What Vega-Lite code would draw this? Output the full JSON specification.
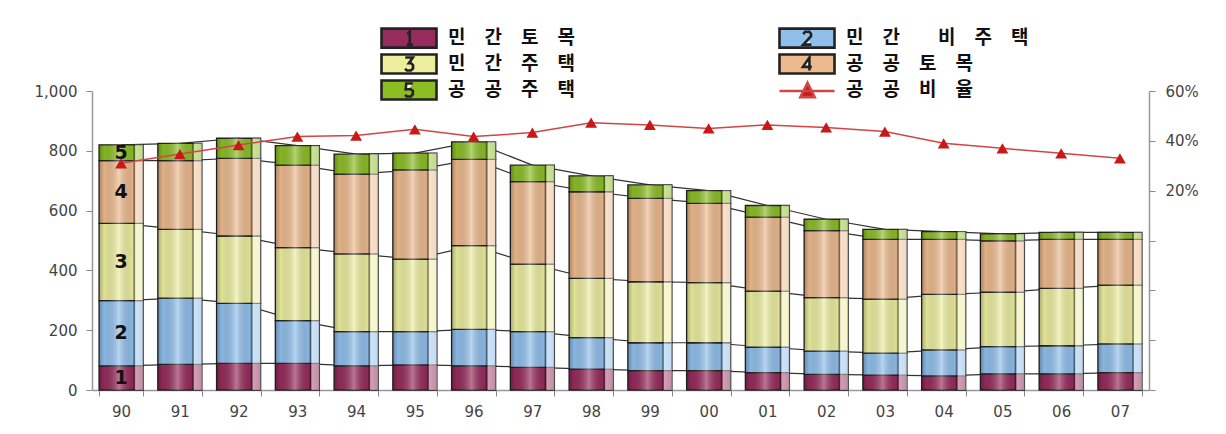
{
  "$schema": "https://vega.github.io/schema/vega-lite/v6.json",
  "width": 1057,
  "height": 299,
  "autosize": {"type": "none"},
  "padding": {"left": 92, "top": 91, "right": 77, "bottom": 44},
  "background": "white",
  "config": {"view": {"stroke": null}, "font": "DejaVu Sans"},
  "datasets": {
    "bars": [
      {"year":1990,"num":1,"type":"민간토목","value":81},{"year":1990,"num":2,"type":"민간 비주택","value":218},{"year":1990,"num":3,"type":"민간주택","value":258},{"year":1990,"num":4,"type":"공공토목","value":210},{"year":1990,"num":5,"type":"공공주택","value":53},
      {"year":1991,"num":1,"type":"민간토목","value":86},{"year":1991,"num":2,"type":"민간 비주택","value":221},{"year":1991,"num":3,"type":"민간주택","value":230},{"year":1991,"num":4,"type":"공공토목","value":230},{"year":1991,"num":5,"type":"공공주택","value":58},
      {"year":1992,"num":1,"type":"민간토목","value":89},{"year":1992,"num":2,"type":"민간 비주택","value":201},{"year":1992,"num":3,"type":"민간주택","value":225},{"year":1992,"num":4,"type":"공공토목","value":260},{"year":1992,"num":5,"type":"공공주택","value":67},
      {"year":1993,"num":1,"type":"민간토목","value":89},{"year":1993,"num":2,"type":"민간 비주택","value":143},{"year":1993,"num":3,"type":"민간주택","value":244},{"year":1993,"num":4,"type":"공공토목","value":276},{"year":1993,"num":5,"type":"공공주택","value":65},
      {"year":1994,"num":1,"type":"민간토목","value":81},{"year":1994,"num":2,"type":"민간 비주택","value":114},{"year":1994,"num":3,"type":"민간주택","value":260},{"year":1994,"num":4,"type":"공공토목","value":267},{"year":1994,"num":5,"type":"공공주택","value":67},
      {"year":1995,"num":1,"type":"민간토목","value":84},{"year":1995,"num":2,"type":"민간 비주택","value":111},{"year":1995,"num":3,"type":"민간주택","value":243},{"year":1995,"num":4,"type":"공공토목","value":298},{"year":1995,"num":5,"type":"공공주택","value":56},
      {"year":1996,"num":1,"type":"민간토목","value":81},{"year":1996,"num":2,"type":"민간 비주택","value":122},{"year":1996,"num":3,"type":"민간주택","value":280},{"year":1996,"num":4,"type":"공공토목","value":288},{"year":1996,"num":5,"type":"공공주택","value":59},
      {"year":1997,"num":1,"type":"민간토목","value":76},{"year":1997,"num":2,"type":"민간 비주택","value":119},{"year":1997,"num":3,"type":"민간주택","value":226},{"year":1997,"num":4,"type":"공공토목","value":276},{"year":1997,"num":5,"type":"공공주택","value":55},
      {"year":1998,"num":1,"type":"민간토목","value":70},{"year":1998,"num":2,"type":"민간 비주택","value":105},{"year":1998,"num":3,"type":"민간주택","value":198},{"year":1998,"num":4,"type":"공공토목","value":290},{"year":1998,"num":5,"type":"공공주택","value":53},
      {"year":1999,"num":1,"type":"민간토목","value":65},{"year":1999,"num":2,"type":"민간 비주택","value":93},{"year":1999,"num":3,"type":"민간주택","value":204},{"year":1999,"num":4,"type":"공공토목","value":279},{"year":1999,"num":5,"type":"공공주택","value":45},
      {"year":2000,"num":1,"type":"민간토목","value":65},{"year":2000,"num":2,"type":"민간 비주택","value":93},{"year":2000,"num":3,"type":"민간주택","value":201},{"year":2000,"num":4,"type":"공공토목","value":265},{"year":2000,"num":5,"type":"공공주택","value":43},
      {"year":2001,"num":1,"type":"민간토목","value":58},{"year":2001,"num":2,"type":"민간 비주택","value":85},{"year":2001,"num":3,"type":"민간주택","value":188},{"year":2001,"num":4,"type":"공공토목","value":247},{"year":2001,"num":5,"type":"공공주택","value":39},
      {"year":2002,"num":1,"type":"민간토목","value":52},{"year":2002,"num":2,"type":"민간 비주택","value":78},{"year":2002,"num":3,"type":"민간주택","value":179},{"year":2002,"num":4,"type":"공공토목","value":224},{"year":2002,"num":5,"type":"공공주택","value":38},
      {"year":2003,"num":1,"type":"민간토목","value":50},{"year":2003,"num":2,"type":"민간 비주택","value":73},{"year":2003,"num":3,"type":"민간주택","value":181},{"year":2003,"num":4,"type":"공공토목","value":200},{"year":2003,"num":5,"type":"공공주택","value":33},
      {"year":2004,"num":1,"type":"민간토목","value":47},{"year":2004,"num":2,"type":"민간 비주택","value":87},{"year":2004,"num":3,"type":"민간주택","value":186},{"year":2004,"num":4,"type":"공공토목","value":184},{"year":2004,"num":5,"type":"공공주택","value":26},
      {"year":2005,"num":1,"type":"민간토목","value":54},{"year":2005,"num":2,"type":"민간 비주택","value":91},{"year":2005,"num":3,"type":"민간주택","value":182},{"year":2005,"num":4,"type":"공공토목","value":172},{"year":2005,"num":5,"type":"공공주택","value":23},
      {"year":2006,"num":1,"type":"민간토목","value":54},{"year":2006,"num":2,"type":"민간 비주택","value":94},{"year":2006,"num":3,"type":"민간주택","value":192},{"year":2006,"num":4,"type":"공공토목","value":164},{"year":2006,"num":5,"type":"공공주택","value":23},
      {"year":2007,"num":1,"type":"민간토목","value":58},{"year":2007,"num":2,"type":"민간 비주택","value":96},{"year":2007,"num":3,"type":"민간주택","value":197},{"year":2007,"num":4,"type":"공공토목","value":153},{"year":2007,"num":5,"type":"공공주택","value":23}
    ],
    "ratio": [
      {"year":1990,"ratio":0.310},{"year":1991,"ratio":0.347},{"year":1992,"ratio":0.383},{"year":1993,"ratio":0.417},{"year":1994,"ratio":0.421},{"year":1995,"ratio":0.446},{"year":1996,"ratio":0.417},{"year":1997,"ratio":0.433},{"year":1998,"ratio":0.473},{"year":1999,"ratio":0.464},{"year":2000,"ratio":0.450},{"year":2001,"ratio":0.464},{"year":2002,"ratio":0.454},{"year":2003,"ratio":0.437},{"year":2004,"ratio":0.390},{"year":2005,"ratio":0.370},{"year":2006,"ratio":0.350},{"year":2007,"ratio":0.330}
    ]
  },
  "encoding": {
    "x": {
      "field": "year",
      "type": "ordinal",
      "scale": {"paddingInner": 0.25, "paddingOuter": 0.12},
      "axis": {
        "title": null,
        "labelExpr": "substring(datum.label, 2, 4)",
        "labelAngle": 0,
        "labelFont": "DejaVu Sans",
        "labelFontSize": 15,
        "labelColor": "#444",
        "labelPadding": 8,
        "tickBand": "extent",
        "tickSize": 6,
        "tickColor": "#888",
        "domainColor": "#999",
        "domainWidth": 1.5
      }
    }
  },
  "layer": [
    {
      "data": {"name": "bars"},
      "transform": [
        {"stack": "value", "groupby": ["year"], "sort": [{"field": "num", "order": "ascending"}], "as": ["y0", "y1"]}
      ],
      "encoding": {
        "y": {
          "field": "y1",
          "type": "quantitative",
          "scale": {"domain": [0, 1000]},
          "axis": {
            "title": null,
            "values": [0, 200, 400, 600, 800, 1000],
            "format": ",d",
            "grid": false,
            "labelFont": "DejaVu Sans",
            "labelFontSize": 15,
            "labelColor": "#444",
            "labelPadding": 9,
            "tickSize": 6,
            "tickColor": "#888",
            "domainColor": "#999",
            "domainWidth": 1.5
          }
        }
      },
      "layer": [
        {
          "mark": {"type": "line", "color": "#333", "strokeWidth": 1.2},
          "encoding": {"detail": {"field": "type"}}
        },
        {
          "mark": {"type": "bar", "strokeWidth": 1.3},
          "encoding": {
            "y2": {"field": "y0"},
            "stroke": {
              "field": "type",
              "type": "nominal",
              "scale": {
                "domain": ["민간토목", "민간 비주택", "민간주택", "공공토목", "공공주택", "공공비율"],
                "range": ["#222222", "#222222", "#222222", "#222222", "#222222", "#D24545"]
              }
            },
            "color": {
              "field": "type",
              "type": "nominal",
              "scale": {
                "domain": ["민간토목", "민간 비주택", "민간주택", "공공토목", "공공주택", "공공비율"],
                "range": ["#962C5C", "#90BFEC", "#ECEE9E", "#EDBA8E", "#8CBE24", "#C81818"]
              },
              "legend": {
                "orient": "none",
                "legendX": 288,
                "legendY": -64,
                "title": null,
                "columns": 2,
                "direction": "horizontal",
                "padding": 0,
                "symbolSize": 361,
                "symbolStrokeWidth": 2.6,
                "symbolOpacity": 1,
                "labelFont": "Noto Sans CJK KR",
                "labelFontSize": 19,
                "labelFontWeight": "bold",
                "labelColor": "#111",
                "labelOffset": 46,
                "labelLimit": 400,
                "rowPadding": -5.5,
                "columnPadding": 199,
                "labelExpr": "datum.label === '민간토목' ? '민\u2003간\u2003토\u2003목' : datum.label === '민간 비주택' ? '민\u2003간\u2003\u2003비\u2003주\u2003택' : datum.label === '민간주택' ? '민\u2003간\u2003주\u2003택' : datum.label === '공공토목' ? '공\u2003공\u2003토\u2003목' : datum.label === '공공주택' ? '공\u2003공\u2003주\u2003택' : '공\u2003공\u2003비\u2003율'"
              }
            }
          }
        },
        {
          "mark": {
            "type": "bar",
            "strokeWidth": 0,
            "color": {
              "gradient": "linear",
              "x1": 0, "y1": 0, "x2": 1, "y2": 0,
              "stops": [
                {"offset": 0, "color": "rgba(0,0,0,0.28)"},
                {"offset": 0.12, "color": "rgba(0,0,0,0.05)"},
                {"offset": 0.45, "color": "rgba(255,255,255,0.35)"},
                {"offset": 0.76, "color": "rgba(0,0,0,0.06)"},
                {"offset": 0.8, "color": "rgba(0,0,0,0.55)"},
                {"offset": 0.83, "color": "rgba(255,255,255,0.55)"},
                {"offset": 1, "color": "rgba(255,255,255,0.45)"}
              ]
            }
          },
          "encoding": {"y2": {"field": "y0"}}
        },
        {
          "transform": [
            {"filter": "datum.year === 1990"},
            {"calculate": "(datum.y0 + datum.y1) / 2", "as": "mid"}
          ],
          "mark": {"type": "text", "font": "DejaVu Sans", "fontSize": 19, "fontWeight": "bold", "color": "#111"},
          "encoding": {
            "y": {"field": "mid", "type": "quantitative"},
            "text": {"field": "num", "type": "nominal"}
          }
        }
      ]
    },
    {
      "data": {"name": "ratio"},
      "encoding": {
        "y": {
          "field": "ratio",
          "type": "quantitative",
          "scale": {"domain": [-0.6, 0.6]},
          "axis": {
            "orient": "right",
            "title": null,
            "grid": false,
            "values": [-0.6, -0.4, -0.2, 0, 0.2, 0.4, 0.6],
            "labelExpr": "datum.value > 0.01 ? format(datum.value, '.0%') : ''",
            "labelFont": "DejaVu Sans",
            "labelFontSize": 15,
            "labelColor": "#444",
            "labelPadding": 10,
            "tickSize": 6,
            "tickColor": "#888",
            "domainColor": "#999",
            "domainWidth": 1.5
          }
        }
      },
      "layer": [
        {"mark": {"type": "line", "color": "#D24545", "strokeWidth": 1.5}},
        {
          "mark": {"type": "point", "shape": "triangle-up", "filled": true, "size": 140, "opacity": 1, "strokeWidth": 0},
          "encoding": {"color": {"datum": "공공비율", "type": "nominal"}}
        },
        {
          "transform": [{"filter": "false"}],
          "mark": {"type": "point", "filled": true, "opacity": 1},
          "encoding": {
            "color": {"datum": "공공비율", "type": "nominal"},
            "stroke": {"datum": "공공비율", "type": "nominal"},
            "shape": {
              "datum": "공공비율",
              "type": "nominal",
              "scale": {
                "domain": ["민간토목", "민간 비주택", "민간주택", "공공토목", "공공주택", "공공비율"],
                "range": [
                  "M-1,-1L4.79,-1L4.79,1L-1,1ZM1.72,-0.42L1.98,-0.68L1.98,0.68M1.66,0.68L2.3,0.68",
                  "M-1,-1L4.79,-1L4.79,1L-1,1ZM1.5,-0.42L1.7,-0.68L2.15,-0.68L2.32,-0.45L2.32,-0.2L1.5,0.68L2.36,0.68",
                  "M-1,-1L4.79,-1L4.79,1L-1,1ZM1.5,-0.68L2.3,-0.68L1.88,-0.08L2.12,-0.08L2.32,0.14L2.32,0.46L2.1,0.68L1.68,0.68L1.48,0.5",
                  "M-1,-1L4.79,-1L4.79,1L-1,1ZM2.15,0.68L2.15,-0.68L1.46,0.3L2.4,0.3",
                  "M-1,-1L4.79,-1L4.79,1L-1,1ZM2.3,-0.68L1.6,-0.68L1.55,-0.06L2.05,-0.1L2.3,0.1L2.3,0.45L2.1,0.68L1.65,0.68L1.48,0.5",
                  "M-1,0.1L4.79,0.1M1.2,0.75L1.95,-0.75L2.7,0.75Z"
                ]
              }
            }
          }
        }
      ]
    }
  ],
  "resolve": {"scale": {"y": "independent"}}
}
